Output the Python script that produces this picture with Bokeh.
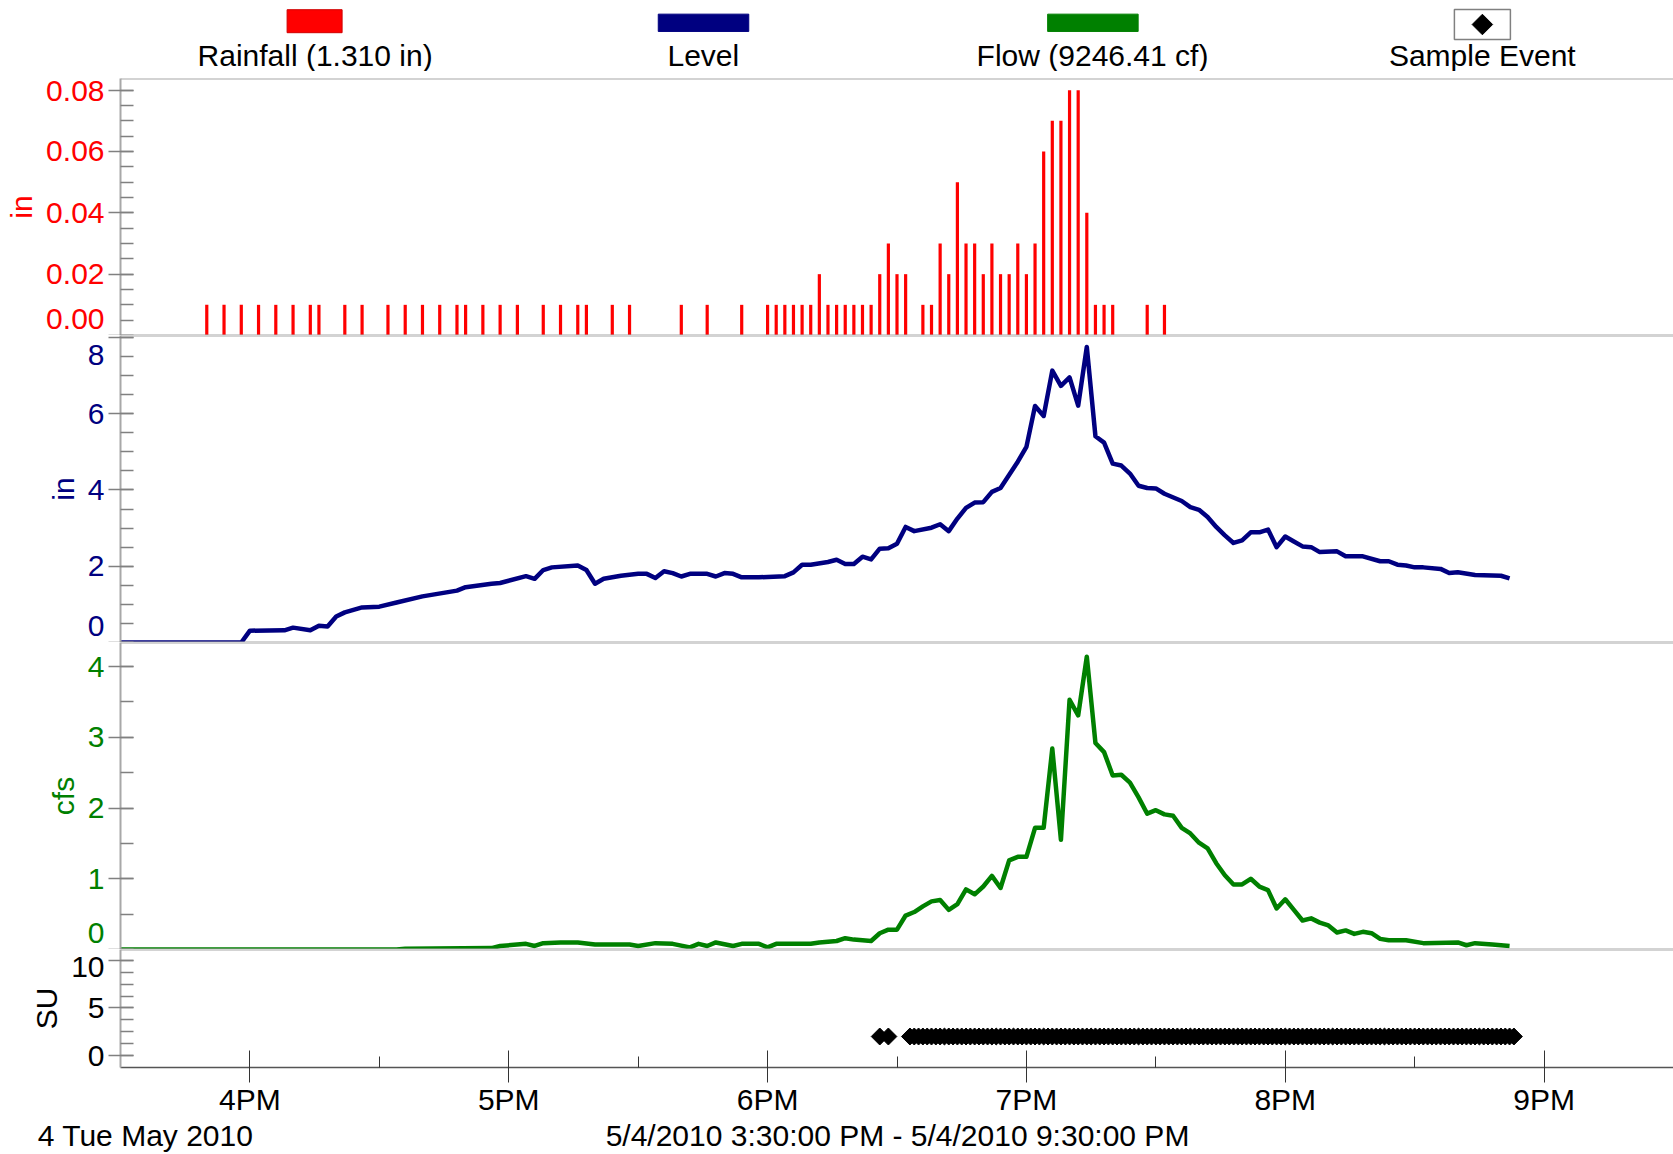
import numpy as np
from bokeh.plotting import figure
from bokeh.layouts import column
from bokeh.models import Range1d, FixedTicker, Span, LinearAxis
from bokeh.core.properties import value
from bokeh.embed import file_html
from bokeh.resources import INLINE

# ------------------------------------------------------------------ data
rain_times = ["15:50", "15:54", "15:58", "16:02", "16:06", "16:10", "16:14", "16:16", "16:22", "16:26",
              "16:32", "16:36", "16:40", "16:44", "16:48", "16:50", "16:54", "16:58", "17:02", "17:08",
              "17:12", "17:16", "17:18", "17:24", "17:28", "17:40", "17:46", "17:54", "18:00", "18:02",
              "18:04", "18:06", "18:08", "18:10", "18:12", "18:14", "18:16", "18:18", "18:20", "18:22",
              "18:24", "18:26", "18:28", "18:30", "18:32", "18:36", "18:38", "18:40", "18:42", "18:44",
              "18:46", "18:48", "18:50", "18:52", "18:54", "18:56", "18:58", "19:00", "19:02", "19:04",
              "19:06", "19:08", "19:10", "19:12", "19:14", "19:16", "19:18", "19:20", "19:28", "19:32"]
rain_values = [0.01, 0.01, 0.01, 0.01, 0.01, 0.01, 0.01, 0.01, 0.01, 0.01,
               0.01, 0.01, 0.01, 0.01, 0.01, 0.01, 0.01, 0.01, 0.01, 0.01,
               0.01, 0.01, 0.01, 0.01, 0.01, 0.01, 0.01, 0.01, 0.01, 0.01,
               0.01, 0.01, 0.01, 0.01, 0.02, 0.01, 0.01, 0.01, 0.01, 0.01,
               0.01, 0.02, 0.03, 0.02, 0.02, 0.01, 0.01, 0.03, 0.02, 0.05,
               0.03, 0.03, 0.02, 0.03, 0.02, 0.02, 0.03, 0.02, 0.03, 0.06,
               0.07, 0.07, 0.08, 0.08, 0.04, 0.01, 0.01, 0.01, 0.01, 0.01]

level_times = ["15:30", "15:58", "16:00", "16:08", "16:10", "16:14", "16:16", "16:18", "16:20", "16:22",
               "16:26", "16:30", "16:34", "16:40", "16:48", "16:50", "16:56", "16:58", "17:04", "17:06",
               "17:08", "17:10", "17:16", "17:18", "17:20", "17:22", "17:26", "17:30", "17:32", "17:34",
               "17:36", "17:38", "17:40", "17:42", "17:46", "17:48", "17:50", "17:52", "17:54", "17:58",
               "18:04", "18:06", "18:08", "18:10", "18:14", "18:16", "18:18", "18:20", "18:22", "18:24",
               "18:26", "18:28", "18:30", "18:32", "18:34", "18:38", "18:40", "18:42", "18:44", "18:46",
               "18:48", "18:50", "18:52", "18:54", "18:58", "19:00", "19:02", "19:04", "19:06", "19:08",
               "19:10", "19:12", "19:14", "19:16", "19:18", "19:20", "19:22", "19:24", "19:26", "19:28",
               "19:30", "19:32", "19:36", "19:38", "19:40", "19:42", "19:44", "19:46", "19:48", "19:50",
               "19:52", "19:54", "19:56", "19:58", "20:00", "20:02", "20:04", "20:06", "20:08", "20:12",
               "20:14", "20:18", "20:22", "20:24", "20:26", "20:28", "20:30", "20:32", "20:36", "20:38",
               "20:40", "20:44", "20:50", "20:52"]
level_values = [0.00, 0.00, 0.31, 0.32, 0.39, 0.32, 0.44, 0.42, 0.68, 0.79,
                0.92, 0.94, 1.05, 1.21, 1.36, 1.45, 1.54, 1.56, 1.74, 1.67,
                1.90, 1.97, 2.02, 1.90, 1.54, 1.67, 1.75, 1.80, 1.80, 1.69,
                1.87, 1.82, 1.73, 1.80, 1.80, 1.73, 1.82, 1.80, 1.71, 1.71,
                1.74, 1.84, 2.04, 2.04, 2.11, 2.17, 2.06, 2.06, 2.25, 2.18,
                2.46, 2.47, 2.59, 3.03, 2.92, 3.01, 3.10, 2.92, 3.25, 3.53,
                3.67, 3.68, 3.95, 4.05, 4.74, 5.13, 6.20, 5.94, 7.13, 6.73,
                6.95, 6.21, 7.75, 5.41, 5.24, 4.69, 4.64, 4.43, 4.11, 4.05,
                4.04, 3.90, 3.71, 3.55, 3.48, 3.29, 3.03, 2.81, 2.61, 2.68,
                2.89, 2.89, 2.96, 2.50, 2.78, 2.65, 2.52, 2.50, 2.37, 2.39,
                2.26, 2.26, 2.13, 2.13, 2.04, 2.02, 1.97, 1.97, 1.93, 1.82,
                1.84, 1.77, 1.75, 1.68]

flow_times = ["15:30", "16:34", "16:36", "16:56", "16:58", "17:04", "17:06", "17:08", "17:12", "17:16",
              "17:20", "17:28", "17:30", "17:34", "17:38", "17:42", "17:44", "17:46", "17:48", "17:52",
              "17:54", "17:58", "18:00", "18:02", "18:10", "18:12", "18:16", "18:18", "18:20", "18:24",
              "18:26", "18:28", "18:30", "18:32", "18:34", "18:36", "18:38", "18:40", "18:42", "18:44",
              "18:46", "18:48", "18:50", "18:52", "18:54", "18:56", "18:58", "19:00", "19:02", "19:04",
              "19:06", "19:08", "19:10", "19:12", "19:14", "19:16", "19:18", "19:20", "19:22", "19:24",
              "19:26", "19:28", "19:30", "19:32", "19:34", "19:36", "19:38", "19:40", "19:42", "19:44",
              "19:46", "19:48", "19:50", "19:52", "19:54", "19:56", "19:58", "20:00", "20:02", "20:04",
              "20:06", "20:08", "20:10", "20:12", "20:14", "20:16", "20:18", "20:20", "20:22", "20:24",
              "20:28", "20:32", "20:40", "20:42", "20:44", "20:48", "20:52"]
flow_values = [0.00, 0.00, 0.01, 0.02, 0.05, 0.08, 0.05, 0.09, 0.10, 0.10,
               0.07, 0.07, 0.05, 0.09, 0.08, 0.03, 0.08, 0.05, 0.10, 0.05,
               0.08, 0.08, 0.03, 0.08, 0.08, 0.10, 0.12, 0.16, 0.14, 0.12,
               0.23, 0.28, 0.28, 0.48, 0.53, 0.61, 0.68, 0.70, 0.56, 0.64,
               0.85, 0.78, 0.89, 1.04, 0.87, 1.26, 1.31, 1.31, 1.72, 1.72,
               2.84, 1.55, 3.53, 3.31, 4.14, 2.92, 2.79, 2.46, 2.47, 2.36,
               2.15, 1.92, 1.97, 1.91, 1.89, 1.72, 1.64, 1.51, 1.43, 1.22,
               1.05, 0.92, 0.92, 1.00, 0.89, 0.84, 0.58, 0.71, 0.56, 0.41,
               0.44, 0.38, 0.34, 0.24, 0.27, 0.22, 0.25, 0.23, 0.15, 0.13,
               0.13, 0.09, 0.10, 0.06, 0.09, 0.07, 0.05]

sample_times = ["18:26", "18:28",
                "18:33", "18:34", "18:35", "18:36", "18:37", "18:38", "18:39", "18:40", "18:41", "18:42",
                "18:43", "18:44", "18:45", "18:46", "18:47", "18:48", "18:49", "18:50", "18:51", "18:52",
                "18:53", "18:54", "18:55", "18:56", "18:57", "18:58", "18:59",
                "19:00", "19:01", "19:02", "19:03", "19:04", "19:05", "19:06", "19:07", "19:08", "19:09",
                "19:10", "19:11", "19:12", "19:13", "19:14", "19:15", "19:16", "19:17", "19:18", "19:19",
                "19:20", "19:21", "19:22", "19:23", "19:24", "19:25", "19:26", "19:27", "19:28", "19:29",
                "19:30", "19:31", "19:32", "19:33", "19:34", "19:35", "19:36", "19:37", "19:38", "19:39",
                "19:40", "19:41", "19:42", "19:43", "19:44", "19:45", "19:46", "19:47", "19:48", "19:49",
                "19:50", "19:51", "19:52", "19:53", "19:54", "19:55", "19:56", "19:57", "19:58", "19:59",
                "20:00", "20:01", "20:02", "20:03", "20:04", "20:05", "20:06", "20:07", "20:08", "20:09",
                "20:10", "20:11", "20:12", "20:13", "20:14", "20:15", "20:16", "20:17", "20:18", "20:19",
                "20:20", "20:21", "20:22", "20:23", "20:24", "20:25", "20:26", "20:27", "20:28", "20:29",
                "20:30", "20:31", "20:32", "20:33", "20:34", "20:35", "20:36", "20:37", "20:38", "20:39",
                "20:40", "20:41", "20:42", "20:43", "20:44", "20:45", "20:46", "20:47", "20:48", "20:49",
                "20:50", "20:51", "20:52", "20:53"]
sample_level = 2.0

legend_labels = ["Rainfall (1.310 in)", "Level", "Flow (9246.41 cf)", "Sample Event"]
hour_ticks = [16, 17, 18, 19, 20, 21]
hour_labels = ["4PM", "5PM", "6PM", "7PM", "8PM", "9PM"]
half_hour_ticks = [16.5, 17.5, 18.5, 19.5, 20.5]
rain_ticks = [0.0, 0.02, 0.04, 0.06, 0.08]
rain_tick_labels = ["0.00", "0.02", "0.04", "0.06", "0.08"]
level_ticks = [0, 2, 4, 6, 8]
level_tick_labels = ["0", "2", "4", "6", "8"]
flow_ticks = [0, 1, 2, 3, 4]
flow_tick_labels = ["0", "1", "2", "3", "4"]
su_ticks = [0, 5, 10]
su_tick_labels = ["0", "5", "10"]
date_text = "4 Tue May 2010"
span_text = "5/4/2010 3:30:00 PM - 5/4/2010 9:30:00 PM"

RED, NAVY, GREEN = "#ff0000", "#000080", "#008000"
FONT = "Liberation Sans"
FS = "30px"


def to_hours(ts):
    return [int(t[:2]) + int(t[3:]) / 60.0 for t in ts]


# ------------------------------------------------------------------ layout
W = 1673
LEFT = 120
X0, X1 = 15.5, 21.5
xr = Range1d(X0, X1)


def page_x_to_hours(px):
    return X0 + (px - LEFT) * (X1 - X0) / (W - LEFT)


def panel(height, yr, top=0, bottom=0, xaxis=False):
    p = figure(width=W, height=height, x_range=xr, y_range=yr, output_backend="svg",
               toolbar_location=None, x_axis_location=("below" if xaxis else None),
               min_border_left=LEFT, min_border_right=0, min_border_top=top, min_border_bottom=bottom,
               background_fill_color="white", border_fill_color="white", outline_line_color=None)
    p.grid.visible = False
    return p


def style_y(p, frame_h, color, label, ticks, minors, texts, nudge_px):
    """Tick marks on the inner axis; labels on an outer axis (edge labels nudged inward)."""
    yr = p.y_range
    per_px = (yr.end - yr.start) / frame_h
    ax = p.yaxis[0]
    ax.ticker = FixedTicker(ticks=ticks, minor_ticks=minors)
    ax.major_label_overrides = {t: "" for t in ticks}
    ax.major_label_text_font_size = "1px"
    ax.major_label_standoff = 0
    ax.axis_line_color = "#a8a8a8"
    ax.axis_line_width = 2
    ax.major_tick_line_color = "#808080"
    ax.major_tick_line_width = 1.5
    ax.major_tick_in = 13
    ax.major_tick_out = 12
    ax.minor_tick_line_color = "#808080"
    ax.minor_tick_line_width = 1.5
    ax.minor_tick_in = 13
    ax.minor_tick_out = 0

    pos = [t + n * per_px for t, n in zip(ticks, nudge_px)]
    lab = LinearAxis(ticker=FixedTicker(ticks=pos, minor_ticks=[]),
                     major_label_overrides=dict(zip(pos, texts)),
                     axis_line_color=None, major_tick_line_color=None, minor_tick_line_color=None,
                     major_tick_in=0, major_tick_out=0, minor_tick_in=0, minor_tick_out=0,
                     major_label_standoff=4, major_label_text_color=color,
                     major_label_text_font=FONT, major_label_text_font_size=FS,
                     axis_label=label, axis_label_text_color=color, axis_label_text_font=FONT,
                     axis_label_text_font_size=FS, axis_label_text_font_style="normal",
                     axis_label_standoff=5)
    p.add_layout(lab, "left")


def separators(p, top=True, bottom=True):
    yr = p.y_range
    if top:
        p.add_layout(Span(location=yr.end, dimension="width", line_color="#a8a8a8", line_width=2))
    if bottom:
        p.add_layout(Span(location=yr.start, dimension="width", line_color="#a8a8a8", line_width=2))


# ---- legend strip
LEG_H = 71
leg = figure(width=W, height=LEG_H, x_range=Range1d(0, W), y_range=Range1d(LEG_H, 0),
             output_backend="svg", toolbar_location=None, x_axis_location=None,
             y_axis_location=None, min_border=0, outline_line_color=None, frame_align=False)
leg.grid.visible = False
leg.rect(x=[314.1], y=[20.7], width=55, height=23, fill_color=RED, line_color="#d00000", line_width=1)
leg.rect(x=[703.0, 1092.4], y=[22.3, 22.3], width=90.5, height=17.3,
         fill_color=[NAVY, GREEN], line_color=[NAVY, GREEN])
leg.rect(x=[1481.9], y=[24], width=56, height=30, fill_color="white",
         line_color="#808080", line_width=1.5)
leg.scatter(x=[1481.9], y=[24], marker="square", angle=np.pi / 4, size=14.5, color="black")
leg.text(x=[314.6, 702.8, 1092.0, 1481.8], y=[54.5, 54.5, 54.5, 54.5], text=legend_labels,
         text_align="center", text_baseline="middle", text_font=value(FONT),
         text_font_size=value(FS), text_color="black")

# ---- rainfall
RAIN_T, RAIN_H = 7, 257
rain = panel(RAIN_T + RAIN_H, Range1d(0, 0.0838), top=RAIN_T)
rt = to_hours(rain_times)
rain.segment(x0=rt, y0=[0] * len(rt), x1=rt, y1=rain_values, line_color=RED, line_width=3.2)
style_y(rain, RAIN_H, RED, "in", rain_ticks, list(np.arange(0, 0.0801, 0.005)),
        rain_tick_labels, [16.5, 0, 0, 0, -1])
separators(rain)

# ---- level
LEVEL_H = 307
level = panel(LEVEL_H, Range1d(0, 8.05))
level.line(to_hours(level_times), level_values, line_color=NAVY, line_width=4.5, line_join="round")
style_y(level, LEVEL_H, NAVY, "in", level_ticks, list(np.arange(0, 8.01, 0.5)),
        level_tick_labels, [16.5, 0, 0, 0, -18])
separators(level)

# ---- flow
FLOW_H = 307
flow = panel(FLOW_H, Range1d(0, 4.34))
flow.line(to_hours(flow_times), flow_values, line_color=GREEN, line_width=4.5, line_join="round")
style_y(flow, FLOW_H, GREEN, "cfs", flow_ticks, list(np.arange(0, 4.01, 0.5)),
        flow_tick_labels, [16.5, 0, 0, 0, 0])
separators(flow)

# ---- sample events (SU) + time axis
SU_H = 118
SU_B = 1154 - (LEG_H + RAIN_T + RAIN_H + LEVEL_H + FLOW_H + SU_H)
su = panel(SU_H + SU_B, Range1d(-1.26, 11.15), bottom=SU_B, xaxis=True)
st = to_hours(sample_times)
su.scatter(st, [sample_level] * len(st), marker="square", angle=np.pi / 4, size=12, color="black")
style_y(su, SU_H, "black", "SU", su_ticks, list(np.arange(0, 10.01, 1.25)),
        su_tick_labels, [0, 0, -7])
separators(su, top=True, bottom=False)

xa = su.xaxis[0]
xa.ticker = FixedTicker(ticks=hour_ticks, minor_ticks=half_hour_ticks)
xa.major_label_overrides = dict(zip(hour_ticks, hour_labels))
xa.major_label_text_font = FONT
xa.major_label_text_font_size = FS
xa.major_label_text_color = "black"
xa.major_label_standoff = 0
xa.axis_line_color = "#555555"
xa.axis_line_width = 1.5
xa.major_tick_line_color = "#333333"
xa.major_tick_line_width = 1
xa.major_tick_in = 17
xa.major_tick_out = 15
xa.minor_tick_line_color = "#333333"
xa.minor_tick_line_width = 1
xa.minor_tick_in = 11
xa.minor_tick_out = 0

# second row under the time axis: date on the left, period centred under the plot
caption_pos = [page_x_to_hours(36.7 + 108.4), page_x_to_hours(897)]
cap = LinearAxis(ticker=FixedTicker(ticks=caption_pos, minor_ticks=[]),
                 major_label_overrides=dict(zip(caption_pos, [date_text, span_text])),
                 axis_line_color=None, major_tick_line_color=None, minor_tick_line_color=None,
                 major_tick_in=0, major_tick_out=0, minor_tick_in=0, minor_tick_out=0,
                 major_label_standoff=0, major_label_text_font=FONT,
                 major_label_text_font_size=FS, major_label_text_color="black")
su.add_layout(cap, "below")

page = column(leg, rain, level, flow, su, spacing=0)
open("out.html", "w").write(file_html(page, INLINE))
